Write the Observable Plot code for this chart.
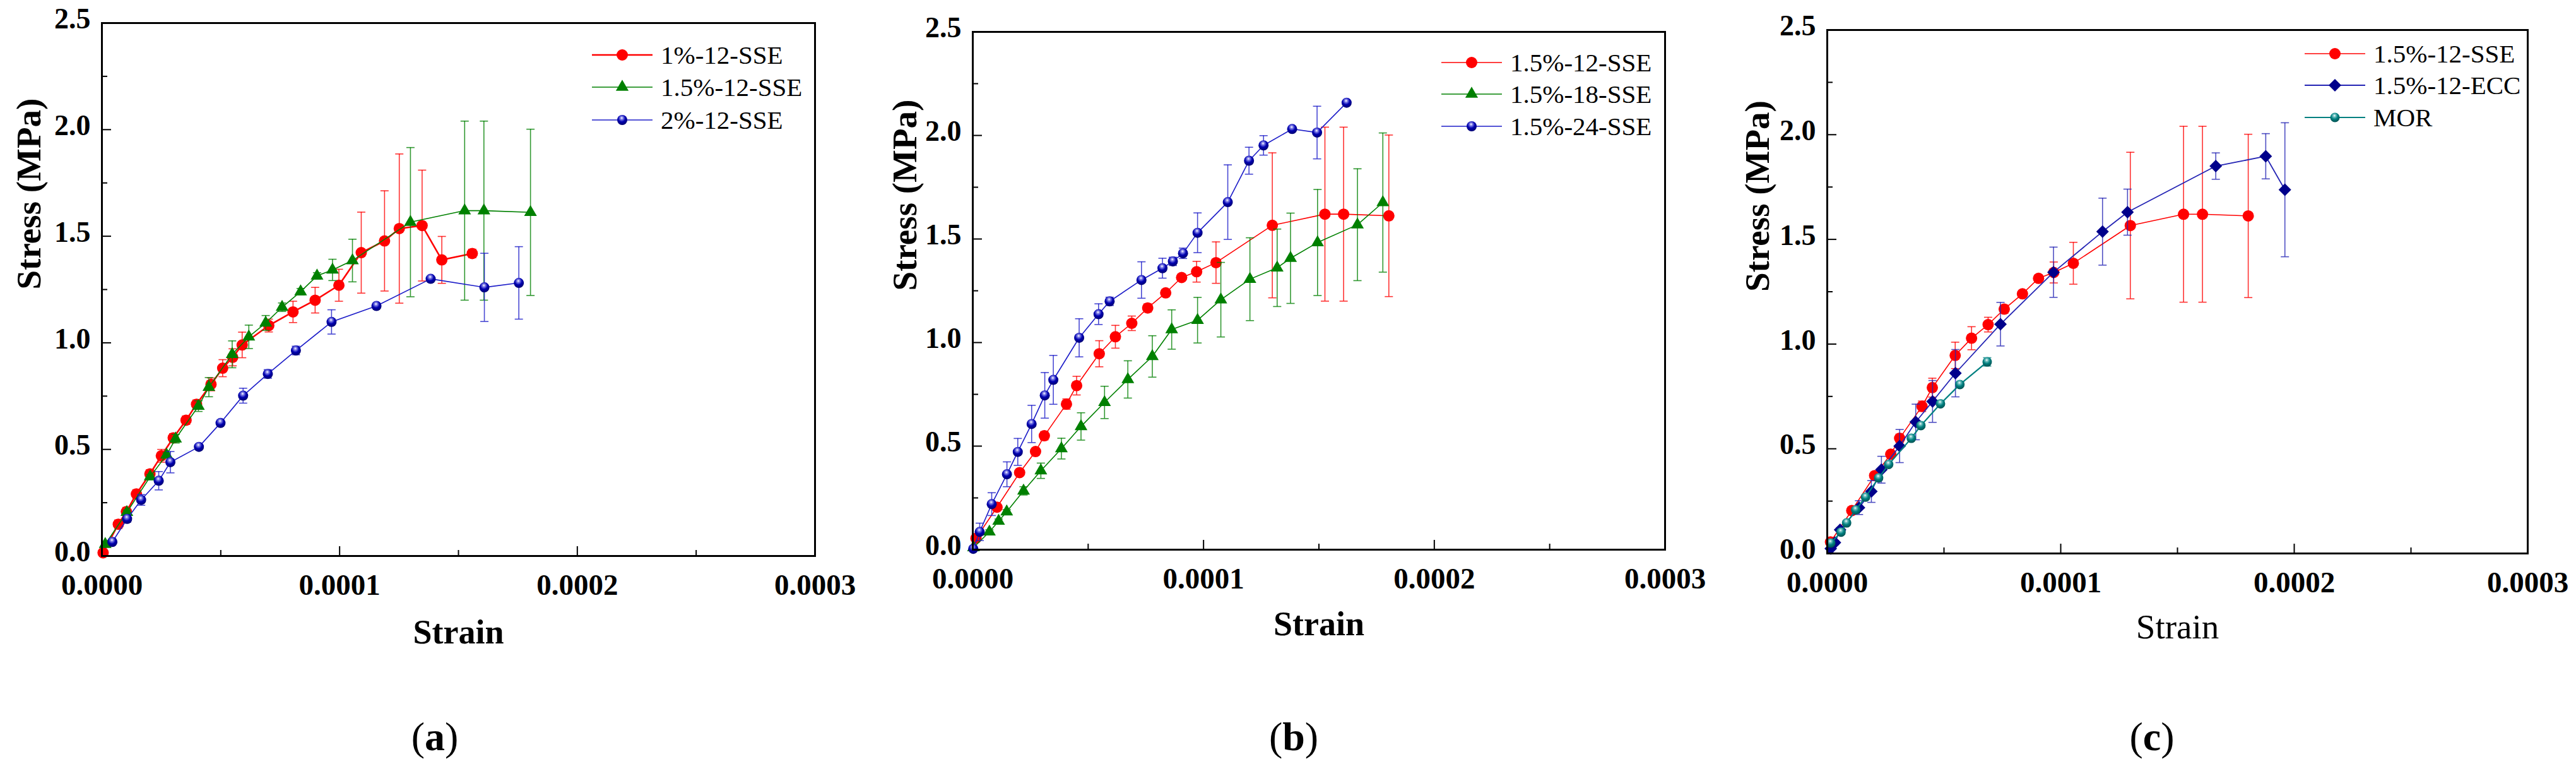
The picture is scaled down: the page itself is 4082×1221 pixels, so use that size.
<!DOCTYPE html>
<html><head><meta charset="utf-8">
<script src="https://cdn.jsdelivr.net/npm/d3@7"></script>
<script src="https://cdn.jsdelivr.net/npm/@observablehq/plot@0.6"></script>
<style>
html,body{margin:0;padding:0;background:#fff;}
#page{position:relative;width:4082px;height:1221px;overflow:hidden;font-family:"Liberation Serif","Times New Roman",serif;color:#000;background:#fff;}
.panel{position:absolute;top:0;}
.caption{position:absolute;font-size:64px;transform:translate(-50%,-50%);white-space:nowrap;line-height:1;}
.lgtext{position:absolute;font-size:41px;line-height:1;white-space:nowrap;transform:translateY(-50%);}
.lgsym{position:absolute;overflow:visible;}
</style></head>
<body>
<svg width="0" height="0" style="position:absolute">
  <defs>
    <radialGradient id="sphereBlue" cx="45%" cy="35%" r="65%" fx="45%" fy="30%">
      <stop offset="0%" stop-color="#ffffff"/>
      <stop offset="22%" stop-color="#8080e8"/>
      <stop offset="55%" stop-color="#0000b0"/>
      <stop offset="100%" stop-color="#000070"/>
    </radialGradient>
    <radialGradient id="sphereTeal" cx="45%" cy="35%" r="65%" fx="45%" fy="30%">
      <stop offset="0%" stop-color="#ffffff"/>
      <stop offset="22%" stop-color="#70c0c0"/>
      <stop offset="55%" stop-color="#008080"/>
      <stop offset="100%" stop-color="#005050"/>
    </radialGradient>
  </defs>
</svg>
<div id="page"></div>
<script>
// ---------- axis ticks ----------
const xTicksMajor = [0, 0.0001, 0.0002, 0.0003];
const xTicksMinor = [0.00005, 0.00015, 0.00025];
const yTicksMajor = [0, 0.5, 1.0, 1.5, 2.0, 2.5];
const yTicksMinor = [0.25, 0.75, 1.25, 1.75, 2.25];
const xLabel = "Strain";
const yLabel = "Stress (MPa)";

// ---------- series data ----------
// 1%-12-SSE (panel a)
const s1_12_strain = [0.5e-6, 6.9e-6, 10.3e-6, 14.5e-6, 20.2e-6, 25.0e-6, 30.0e-6, 35.4e-6, 39.8e-6, 45.9e-6, 50.8e-6, 55.0e-6, 59.0e-6, 70.2e-6, 80.4e-6, 89.7e-6, 99.7e-6, 109.1e-6, 118.9e-6, 125.1e-6, 134.7e-6, 143.0e-6, 155.8e-6];
const s1_12_stress = [0.015, 0.149, 0.208, 0.291, 0.385, 0.470, 0.554, 0.637, 0.712, 0.805, 0.881, 0.932, 0.990, 1.081, 1.145, 1.200, 1.270, 1.423, 1.478, 1.536, 1.550, 1.389, 1.419];
const s1_12_err    = [0.01, 0.02, 0.02, 0.02, 0.02, 0.03, 0.02, 0.02, 0.02, 0.03, 0.04, 0.04, 0.06, 0.03, 0.05, 0.06, 0.075, 0.19, 0.235, 0.35, 0.26, 0.11, 0.02];

// 1.5%-12-SSE (panels a, b, c)
const s15_12_strain = [1.4e-6, 10.5e-6, 20.3e-6, 27.2e-6, 31.0e-6, 40.6e-6, 45.0e-6, 54.8e-6, 61.8e-6, 68.9e-6, 75.8e-6, 83.6e-6, 90.5e-6, 97.0e-6, 105.4e-6, 129.8e-6, 152.6e-6, 160.7e-6, 180.3e-6];
const s15_12_stress = [0.055, 0.205, 0.372, 0.474, 0.550, 0.703, 0.792, 0.946, 1.028, 1.093, 1.167, 1.240, 1.314, 1.342, 1.386, 1.566, 1.620, 1.620, 1.612];
const s15_12_err    = [0.01, 0.01, 0.01, 0.01, 0.02, 0.025, 0.045, 0.063, 0.055, 0.035, 0.02, 0.015, 0.015, 0.05, 0.10, 0.35, 0.42, 0.42, 0.39];

// 2%-12-SSE (panel a)
const s2_12_strain = [4.4e-6, 10.6e-6, 16.5e-6, 23.9e-6, 28.8e-6, 40.8e-6, 49.9e-6, 59.4e-6, 69.8e-6, 81.6e-6, 96.6e-6, 115.5e-6, 138.3e-6, 160.9e-6, 175.4e-6];
const s2_12_stress = [0.066, 0.174, 0.263, 0.353, 0.440, 0.512, 0.624, 0.752, 0.854, 0.964, 1.098, 1.173, 1.300, 1.260, 1.281];
const s2_12_err    = [0.01, 0.015, 0.025, 0.043, 0.05, 0.01, 0.01, 0.035, 0.02, 0.02, 0.057, 0.01, 0.01, 0.16, 0.17];

// 1.5%-18-SSE (panel b)
const s15_18_strain = [0.3e-6, 7.2e-6, 11.2e-6, 14.7e-6, 22.0e-6, 29.5e-6, 38.4e-6, 46.9e-6, 57.1e-6, 67.2e-6, 77.8e-6, 86.2e-6, 97.4e-6, 107.5e-6, 120.1e-6, 131.9e-6, 137.7e-6, 149.4e-6, 166.7e-6, 177.7e-6];
const s15_18_stress = [0.010, 0.086, 0.138, 0.183, 0.284, 0.381, 0.488, 0.595, 0.711, 0.822, 0.933, 1.063, 1.108, 1.207, 1.306, 1.361, 1.407, 1.483, 1.569, 1.676];
const s15_18_err    = [0.005, 0.01, 0.01, 0.01, 0.02, 0.037, 0.05, 0.066, 0.078, 0.09, 0.10, 0.095, 0.11, 0.18, 0.20, 0.187, 0.218, 0.256, 0.27, 0.336];

// 1.5%-24-SSE (panel b)
const s15_24_strain = [0.2e-6, 3.0e-6, 8.2e-6, 14.8e-6, 19.5e-6, 25.5e-6, 31.2e-6, 34.9e-6, 46.1e-6, 54.5e-6, 59.3e-6, 73.1e-6, 82.2e-6, 86.7e-6, 91.1e-6, 97.4e-6, 110.5e-6, 119.7e-6, 126.0e-6, 138.4e-6, 149.2e-6, 162.0e-6];
const s15_24_stress = [0.004, 0.086, 0.220, 0.364, 0.472, 0.607, 0.745, 0.820, 1.023, 1.137, 1.199, 1.302, 1.359, 1.392, 1.431, 1.530, 1.678, 1.878, 1.952, 2.031, 2.014, 2.158];
const s15_24_err    = [0, 0.042, 0.055, 0.06, 0.065, 0.09, 0.11, 0.118, 0.092, 0.05, 0.02, 0.088, 0.048, 0.02, 0.025, 0.096, 0.18, 0.065, 0.047, 0.01, 0.127, 0];

// 1.5%-12-ECC (panel c)
const ecc_strain = [1.5e-6, 3.3e-6, 5.5e-6, 13.6e-6, 18.9e-6, 23.2e-6, 31.0e-6, 37.9e-6, 45.1e-6, 54.9e-6, 74.2e-6, 96.9e-6, 117.9e-6, 128.6e-6, 166.4e-6, 187.8e-6, 196.0e-6];
const ecc_stress = [0.023, 0.052, 0.113, 0.219, 0.296, 0.400, 0.513, 0.628, 0.726, 0.861, 1.095, 1.343, 1.537, 1.630, 1.850, 1.897, 1.737];
const ecc_err    = [0, 0.01, 0.01, 0.033, 0.052, 0.064, 0.079, 0.085, 0.10, 0.113, 0.104, 0.12, 0.16, 0.11, 0.063, 0.108, 0.32];

// MOR (panel c)
const mor_strain = [1.5e-6, 5.9e-6, 8.3e-6, 12.2e-6, 16.4e-6, 22.0e-6, 26.3e-6, 36.0e-6, 40.1e-6, 48.5e-6, 56.8e-6, 68.5e-6];
const mor_stress = [0.050, 0.102, 0.146, 0.208, 0.269, 0.361, 0.425, 0.550, 0.611, 0.715, 0.807, 0.915];
const mor_err    = [0.005, 0.01, 0.01, 0.01, 0.01, 0.01, 0.01, 0.01, 0.01, 0.01, 0.01, 0.02];

// ---------- styles ----------
const rows = (xs, ys, es) => xs.map((x, i) => ({x, y: ys[i], e: es[i]}));
const RED = "#ff0000", GREEN = "#008000", BLUE = "#1c1cc8", NAVY = "#00008b", ECCLINE = "#2424b4", TEAL = "#008080";

const panels = [
  {caption: "a", left: 0, width: 1340, mL: 161, mR: 49, mT: 36, mB: 341, ylabDx: -115, xlabDy: 121, xBold: true, capX: 689,
   legX: 986, legY: [87, 138, 190],
   series: [
     {name: "1%-12-SSE", data: rows(s1_12_strain, s1_12_stress, s1_12_err), line: RED, err: RED, lw: 2.6, symbol: "circle", fill: RED, r: 9},
     {name: "1.5%-12-SSE", data: rows(s15_12_strain, s15_12_stress, s15_12_err), line: GREEN, err: GREEN, lw: 1.6, symbol: "triangle", fill: GREEN, r: 7.5},
     {name: "2%-12-SSE", data: rows(s2_12_strain, s2_12_stress, s2_12_err), line: BLUE, err: BLUE, lw: 1.6, symbol: "circle", fill: "url(#sphereBlue)", r: 8}
   ]},
  {caption: "b", left: 1370, width: 1320, mL: 171, mR: 52, mT: 50, mB: 351, ylabDx: -107, xlabDy: 118, xBold: true, capX: 2050,
   legX: 2332, legY: [99, 149, 200],
   series: [
     {name: "1.5%-12-SSE", data: rows(s15_12_strain, s15_12_stress, s15_12_err), line: RED, err: RED, lw: 1.6, symbol: "circle", fill: RED, r: 9},
     {name: "1.5%-18-SSE", data: rows(s15_18_strain, s15_18_stress, s15_18_err), line: GREEN, err: GREEN, lw: 1.6, symbol: "triangle", fill: GREEN, r: 7.5},
     {name: "1.5%-24-SSE", data: rows(s15_24_strain, s15_24_stress, s15_24_err), line: BLUE, err: BLUE, lw: 1.6, symbol: "circle", fill: "url(#sphereBlue)", r: 8}
   ]},
  {caption: "c", left: 2720, width: 1340, mL: 175, mR: 55, mT: 47, mB: 345, ylabDx: -110, xlabDy: 117, xBold: false, capX: 3410,
   legX: 3700, legY: [85, 135, 186],
   series: [
     {name: "1.5%-12-SSE", data: rows(s15_12_strain, s15_12_stress, s15_12_err), line: RED, err: RED, lw: 1.6, symbol: "circle", fill: RED, r: 9},
     {name: "1.5%-12-ECC", data: rows(ecc_strain, ecc_stress, ecc_err), line: ECCLINE, err: ECCLINE, lw: 1.8, symbol: "diamond2", fill: NAVY, r: 9},
     {name: "MOR", data: rows(mor_strain, mor_stress, mor_err), line: TEAL, err: TEAL, lw: 2.2, symbol: "circle", fill: "url(#sphereTeal)", r: 7.5}
   ]}
];

const capSymbol = {draw(ctx, size) { const w = Math.sqrt(size / Math.PI); ctx.moveTo(-w, 0); ctx.lineTo(w, 0); }};
const page = document.getElementById("page");

for (const p of panels) {
  const marks = [];
  // inward ticks
  marks.push(Plot.axisX({ticks: xTicksMajor, tickSize: -15, fill: "none", stroke: "black", strokeWidth: 2}));
  marks.push(Plot.axisX({ticks: xTicksMinor, tickSize: -9, fill: "none", stroke: "black", strokeWidth: 2}));
  marks.push(Plot.axisY({ticks: yTicksMajor, tickSize: -15, fill: "none", stroke: "black", strokeWidth: 2}));
  marks.push(Plot.axisY({ticks: yTicksMinor, tickSize: -9, fill: "none", stroke: "black", strokeWidth: 2}));
  // tick labels
  marks.push(Plot.axisX({ticks: xTicksMajor, tickSize: 0, tickPadding: 28, tickFormat: d3.format(".4f"), label: null, fill: "black", fontSize: 47, fontWeight: "bold"}));
  marks.push(Plot.axisY({ticks: yTicksMajor, tickSize: 0, tickPadding: 18, dy: -6, tickFormat: d3.format(".1f"), label: null, fill: "black", fontSize: 46, fontWeight: "bold"}));
  // series
  for (const s of p.series) {
    const ed = s.data.filter(d => d.e > 0);
    marks.push(Plot.ruleX(ed, {x: "x", y1: d => d.y - d.e, y2: d => d.y + d.e, stroke: s.err, strokeWidth: 1.6, strokeOpacity: 0.8}));
    marks.push(Plot.dot(ed, {x: "x", y: d => d.y + d.e, symbol: capSymbol, r: 6.5, fill: "none", stroke: s.err, strokeWidth: 1.6, strokeOpacity: 0.8}));
    marks.push(Plot.dot(ed, {x: "x", y: d => d.y - d.e, symbol: capSymbol, r: 6.5, fill: "none", stroke: s.err, strokeWidth: 1.6, strokeOpacity: 0.8}));
    marks.push(Plot.line(s.data, {x: "x", y: "y", stroke: s.line, strokeWidth: s.lw}));
    marks.push(Plot.dot(s.data, {x: "x", y: "y", symbol: s.symbol, r: s.r, fill: s.fill, stroke: "none"}));
  }
  // axis titles
  marks.push(Plot.text([xLabel], {text: d => d, frameAnchor: "bottom", dy: p.xlabDy, fontSize: p.xBold ? 54 : 55, fontWeight: p.xBold ? "bold" : "normal", fill: "black", lineAnchor: "middle"}));
  marks.push(Plot.text([yLabel], {text: d => d, frameAnchor: "left", dx: p.ylabDx, rotate: -90, fontSize: 55, fontWeight: "bold", fill: "black", lineAnchor: "middle"}));
  marks.push(Plot.frame({stroke: "black", strokeWidth: 3}));

  const chart = Plot.plot({
    width: p.width, height: 1221,
    marginLeft: p.mL, marginRight: p.mR, marginTop: p.mT, marginBottom: p.mB,
    x: {domain: [0, 0.0003]},
    y: {domain: [0, 2.5]},
    style: {fontFamily: '"Liberation Serif", "Times New Roman", serif', fontSize: "46px", color: "black", background: "white", overflow: "visible", maxWidth: "none"},
    marks
  });
  const holder = document.createElement("div");
  holder.className = "panel";
  holder.style.left = p.left + "px";
  holder.style.width = p.width + "px";
  holder.appendChild(chart);
  page.appendChild(holder);

  // legend (no box)
  p.series.forEach((s, i) => {
    const y = p.legY[i];
    const svg = d3.create("svg").attr("class", "lgsym").attr("width", 110).attr("height", 40)
      .style("left", (p.legX - 55) + "px").style("top", (y - 20) + "px");
    svg.append("line").attr("x1", 7).attr("x2", 103).attr("y1", 20).attr("y2", 20)
      .attr("stroke", s.line).attr("stroke-width", s.lw);
    const symMap = {circle: d3.symbolCircle, triangle: d3.symbolTriangle, diamond2: d3.symbolDiamond2};
    svg.append("path").attr("transform", "translate(55,20)")
      .attr("d", d3.symbol(symMap[s.symbol], Math.PI * s.r * s.r)())
      .attr("fill", s.fill);
    page.appendChild(svg.node());
    const t = document.createElement("div");
    t.className = "lgtext";
    t.style.left = (p.legX + 61) + "px";
    t.style.top = y + "px";
    t.textContent = s.name;
    page.appendChild(t);
  });

  // caption
  const c = document.createElement("div");
  c.className = "caption";
  c.style.left = p.capX + "px";
  c.style.top = "1167px";
  c.innerHTML = "(<b>" + p.caption + "</b>)";
  page.appendChild(c);
}
</script>
</body></html>
